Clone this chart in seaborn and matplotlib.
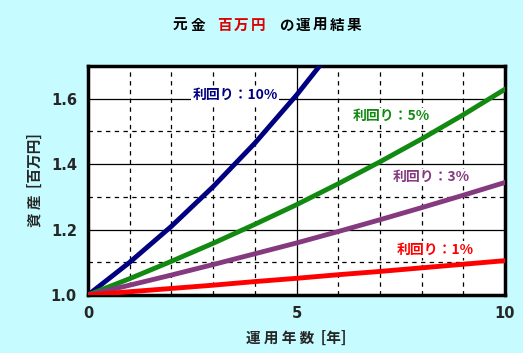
import matplotlib
matplotlib.use('Agg')
import matplotlib.pyplot as plt
import seaborn as sns
import pandas as pd
from matplotlib.ticker import MultipleLocator

years = [0, 1, 2, 3, 4, 5, 6, 7, 8, 9, 10]
rate_labels = ['利回り：10%', '利回り：5%', '利回り：3%', '利回り：1%']
asset_10 = [1.000, 1.100, 1.210, 1.331, 1.464, 1.611, 1.772, 1.949, 2.144, 2.358, 2.594]
asset_5 = [1.000, 1.050, 1.103, 1.158, 1.216, 1.276, 1.340, 1.407, 1.477, 1.551, 1.629]
asset_3 = [1.000, 1.030, 1.061, 1.093, 1.126, 1.159, 1.194, 1.230, 1.267, 1.305, 1.344]
asset_1 = [1.000, 1.010, 1.020, 1.030, 1.041, 1.051, 1.062, 1.072, 1.083, 1.094, 1.105]
title_chars = ['元', '金', '百', '万', '円', 'の', '運', '用', '結', '果']
title_red = [False, False, True, True, True, False, False, False, False, False]

colors = ['#000080', '#128a12', '#853a80', '#ff0000']
label_pos = [(2.5, 1.612), (6.35, 1.546), (7.3, 1.36), (7.4, 1.139)]
title_x = [180, 198, 224, 241, 258, 286, 303, 320, 337, 354]

rows = []
for lab, vals in zip(rate_labels, [asset_10, asset_5, asset_3, asset_1]):
    for y, v in zip(years, vals):
        rows.append({'year': y, 'asset': v, 'rate': lab})
df = pd.DataFrame(rows)

sns.set_style('white')
plt.rcParams['font.family'] = ['Noto Sans CJK JP', 'DejaVu Sans']
bg = '#c6fbff'

fig = plt.figure(figsize=(5.23, 3.53), dpi=100, facecolor=bg)
ax = fig.add_axes([88/523, 1 - 295/353, 417/523, 229/353])

sns.lineplot(data=df, x='year', y='asset', hue='rate', palette=colors,
             linewidth=3.5, legend=False, ax=ax, zorder=3)

ax.set_xlim(0, 10)
ax.set_ylim(1.0, 1.7)
ax.xaxis.set_major_locator(MultipleLocator(5))
ax.xaxis.set_minor_locator(MultipleLocator(1))
ax.yaxis.set_major_locator(MultipleLocator(0.2))
ax.yaxis.set_minor_locator(MultipleLocator(0.1))
ax.grid(which='major', color='black', linestyle='-', linewidth=0.9)
ax.grid(which='minor', color='black', linestyle=(0, (3.5, 3.5)), linewidth=0.9)
ax.set_axisbelow(True)
for s in ax.spines.values():
    s.set_linewidth(2.5)
    s.set_color('black')
ax.tick_params(which='both', length=0, pad=8, labelsize=10.5)
ax.set_xticks([0, 5, 10])
ax.set_xticklabels(['0', '5', '10'], fontweight='bold', family='DejaVu Sans')
ax.set_yticks([1.0, 1.2, 1.4, 1.6])
ax.set_yticklabels(['1.0', '1.2', '1.4', '1.6'], fontweight='bold', family='DejaVu Sans')

ax.set_xlabel('運 用 年 数  [年]', fontsize=10.5, fontweight='bold', labelpad=6)
ax.set_ylabel('資 産  [百万円]', fontsize=10.5, fontweight='bold', labelpad=6)

for lab, (tx, ty), c in zip(rate_labels, label_pos, colors):
    ax.text(tx, ty, lab, color=c, fontsize=10, fontweight='bold', va='center', ha='left',
            zorder=4, bbox=dict(facecolor='white', edgecolor='none', pad=1))

for ch, px, red in zip(title_chars, title_x, title_red):
    fig.text(px/523, 1 - 25/353, ch, fontsize=10.5, fontweight='bold', va='center', ha='center',
             color='#dd0000' if red else 'black')

fig.savefig('out.png', dpi=100, facecolor=bg)
